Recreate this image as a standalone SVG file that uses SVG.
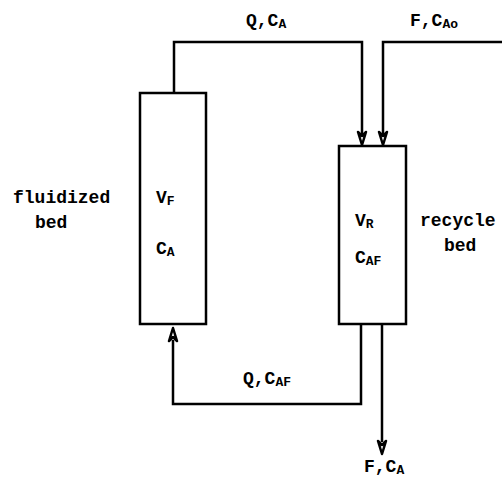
<svg xmlns="http://www.w3.org/2000/svg" width="502" height="481" viewBox="0 0 502 481">
<style>
.ln{fill:none;stroke:#000;stroke-width:2.5;stroke-linejoin:miter}
.bx{fill:#fff;stroke:#000;stroke-width:2.5}
.ah{fill:#fff;stroke:#000;stroke-width:2.5;stroke-linejoin:round}
text{font-family:"Liberation Mono","DejaVu Sans Mono",monospace;font-weight:bold;font-size:18px;fill:#000}
.s{font-size:13px}
</style>
<rect width="502" height="481" fill="#fff"/>
<g id="connectors">
<path class="ln" d="M174,93 V42 H362 V134"/>
<path class="ln" d="M502,42 H383 V134"/>
<path class="ln" d="M361,324 V404 H173 V340"/>
<path class="ln" d="M382,324 V442"/>
<path class="ah" d="M358,132 L362,145 L366,132 L362,136 Z"/>
<path class="ah" d="M379,132 L383,145 L387,132 L383,136 Z"/>
<path class="ah" d="M169,341 L173,328 L177,341 L173,337 Z"/>
<path class="ah" d="M378,441 L382,454 L386,441 L382,445 Z"/>
</g>
<g id="label-q-ca"><text x="246" y="26">Q,C<tspan class="s" dy="2">A</tspan></text></g>
<g id="label-f-cao"><text x="410" y="26">F,C<tspan class="s" dy="2">Ao</tspan></text></g>
<g id="label-q-caf"><text x="243" y="384">Q,C<tspan class="s" dy="2">AF</tspan></text></g>
<g id="label-f-ca"><text x="364" y="472">F,C<tspan class="s" dy="2">A</tspan></text></g>
<g id="fluidized-bed">
<rect class="bx" x="140" y="93" width="66" height="231"/>
<text x="156" y="203">V<tspan class="s" dy="2">F</tspan></text>
<text x="156" y="254">C<tspan class="s" dy="2">A</tspan></text>
<text x="13" y="203">fluidized</text>
<text x="35" y="228">bed</text>
</g>
<g id="recycle-bed">
<rect class="bx" x="339" y="146" width="67" height="178"/>
<text x="355" y="226">V<tspan class="s" dy="2">R</tspan></text>
<text x="355" y="263">C<tspan class="s" dy="2">AF</tspan></text>
<text x="420" y="226">recycle</text>
<text x="444" y="251">bed</text>
</g>
</svg>
